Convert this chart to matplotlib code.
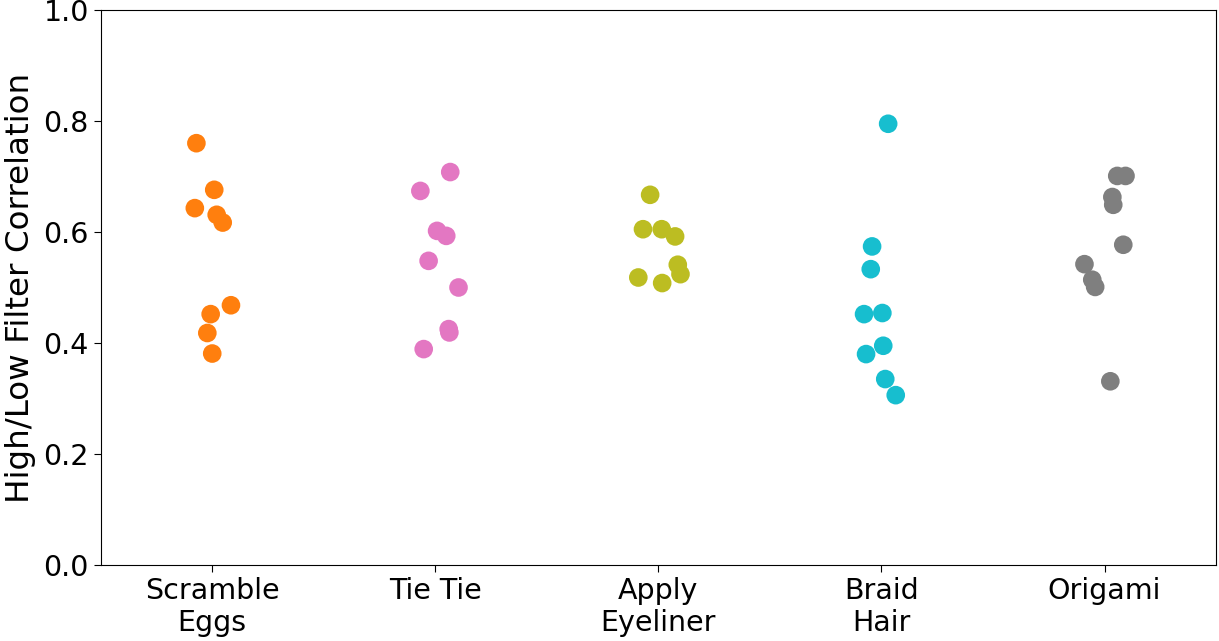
import matplotlib.pyplot as plt

tasks = ['Scramble\nEggs', 'Tie Tie', 'Apply\nEyeliner', 'Braid\nHair', 'Origami']
colors = ['tab:orange', 'tab:pink', 'tab:olive', 'tab:cyan', 'tab:gray']

# correlation values per task
scramble_eggs = [0.760, 0.676, 0.643, 0.631, 0.617, 0.468, 0.452, 0.418, 0.381]
tie_tie = [0.708, 0.674, 0.602, 0.593, 0.548, 0.500, 0.425, 0.419, 0.389]
apply_eyeliner = [0.667, 0.605, 0.605, 0.592, 0.541, 0.524, 0.518, 0.508]
braid_hair = [0.795, 0.574, 0.533, 0.452, 0.454, 0.395, 0.380, 0.335, 0.306]
origami = [0.701, 0.701, 0.663, 0.649, 0.577, 0.542, 0.514, 0.501, 0.331]

# horizontal jitter used in the original strip plot
jitter = [
    [-0.071, 0.009, -0.078, 0.020, 0.047, 0.084, -0.007, -0.022, 0.000],
    [0.067, -0.067, 0.008, 0.049, -0.030, 0.104, 0.060, 0.063, -0.052],
    [-0.037, -0.069, 0.015, 0.075, 0.087, 0.099, -0.090, 0.017],
    [0.030, -0.042, -0.048, -0.078, 0.004, 0.008, -0.069, 0.017, 0.064],
    [0.057, 0.094, 0.035, 0.039, 0.084, -0.090, -0.055, -0.042, 0.026],
]

series = [scramble_eggs, tie_tie, apply_eyeliner, braid_hair, origami]

fig = plt.figure(figsize=(12.19, 6.41), dpi=100)
ax = fig.add_axes([0.0826, 0.1186, 0.915, 0.8658])

for i, vals in enumerate(series):
    xs = [i + j for j in jitter[i]]
    ax.scatter(xs, vals, s=180, color=colors[i], edgecolors='none', zorder=3)

ax.set_xlim(-0.5, 4.5)
ax.set_ylim(0, 1.0)
ax.set_xticks(range(len(tasks)))
ax.set_xticklabels(tasks, fontsize=20.5, linespacing=1.2)
ax.set_yticks([0, 0.2, 0.4, 0.6, 0.8, 1.0])
ax.tick_params(axis='both', labelsize=20.5, length=5)
ax.set_ylabel('High/Low Filter Correlation', fontsize=23.4, labelpad=5)

fig.savefig('out.png', dpi=100)
